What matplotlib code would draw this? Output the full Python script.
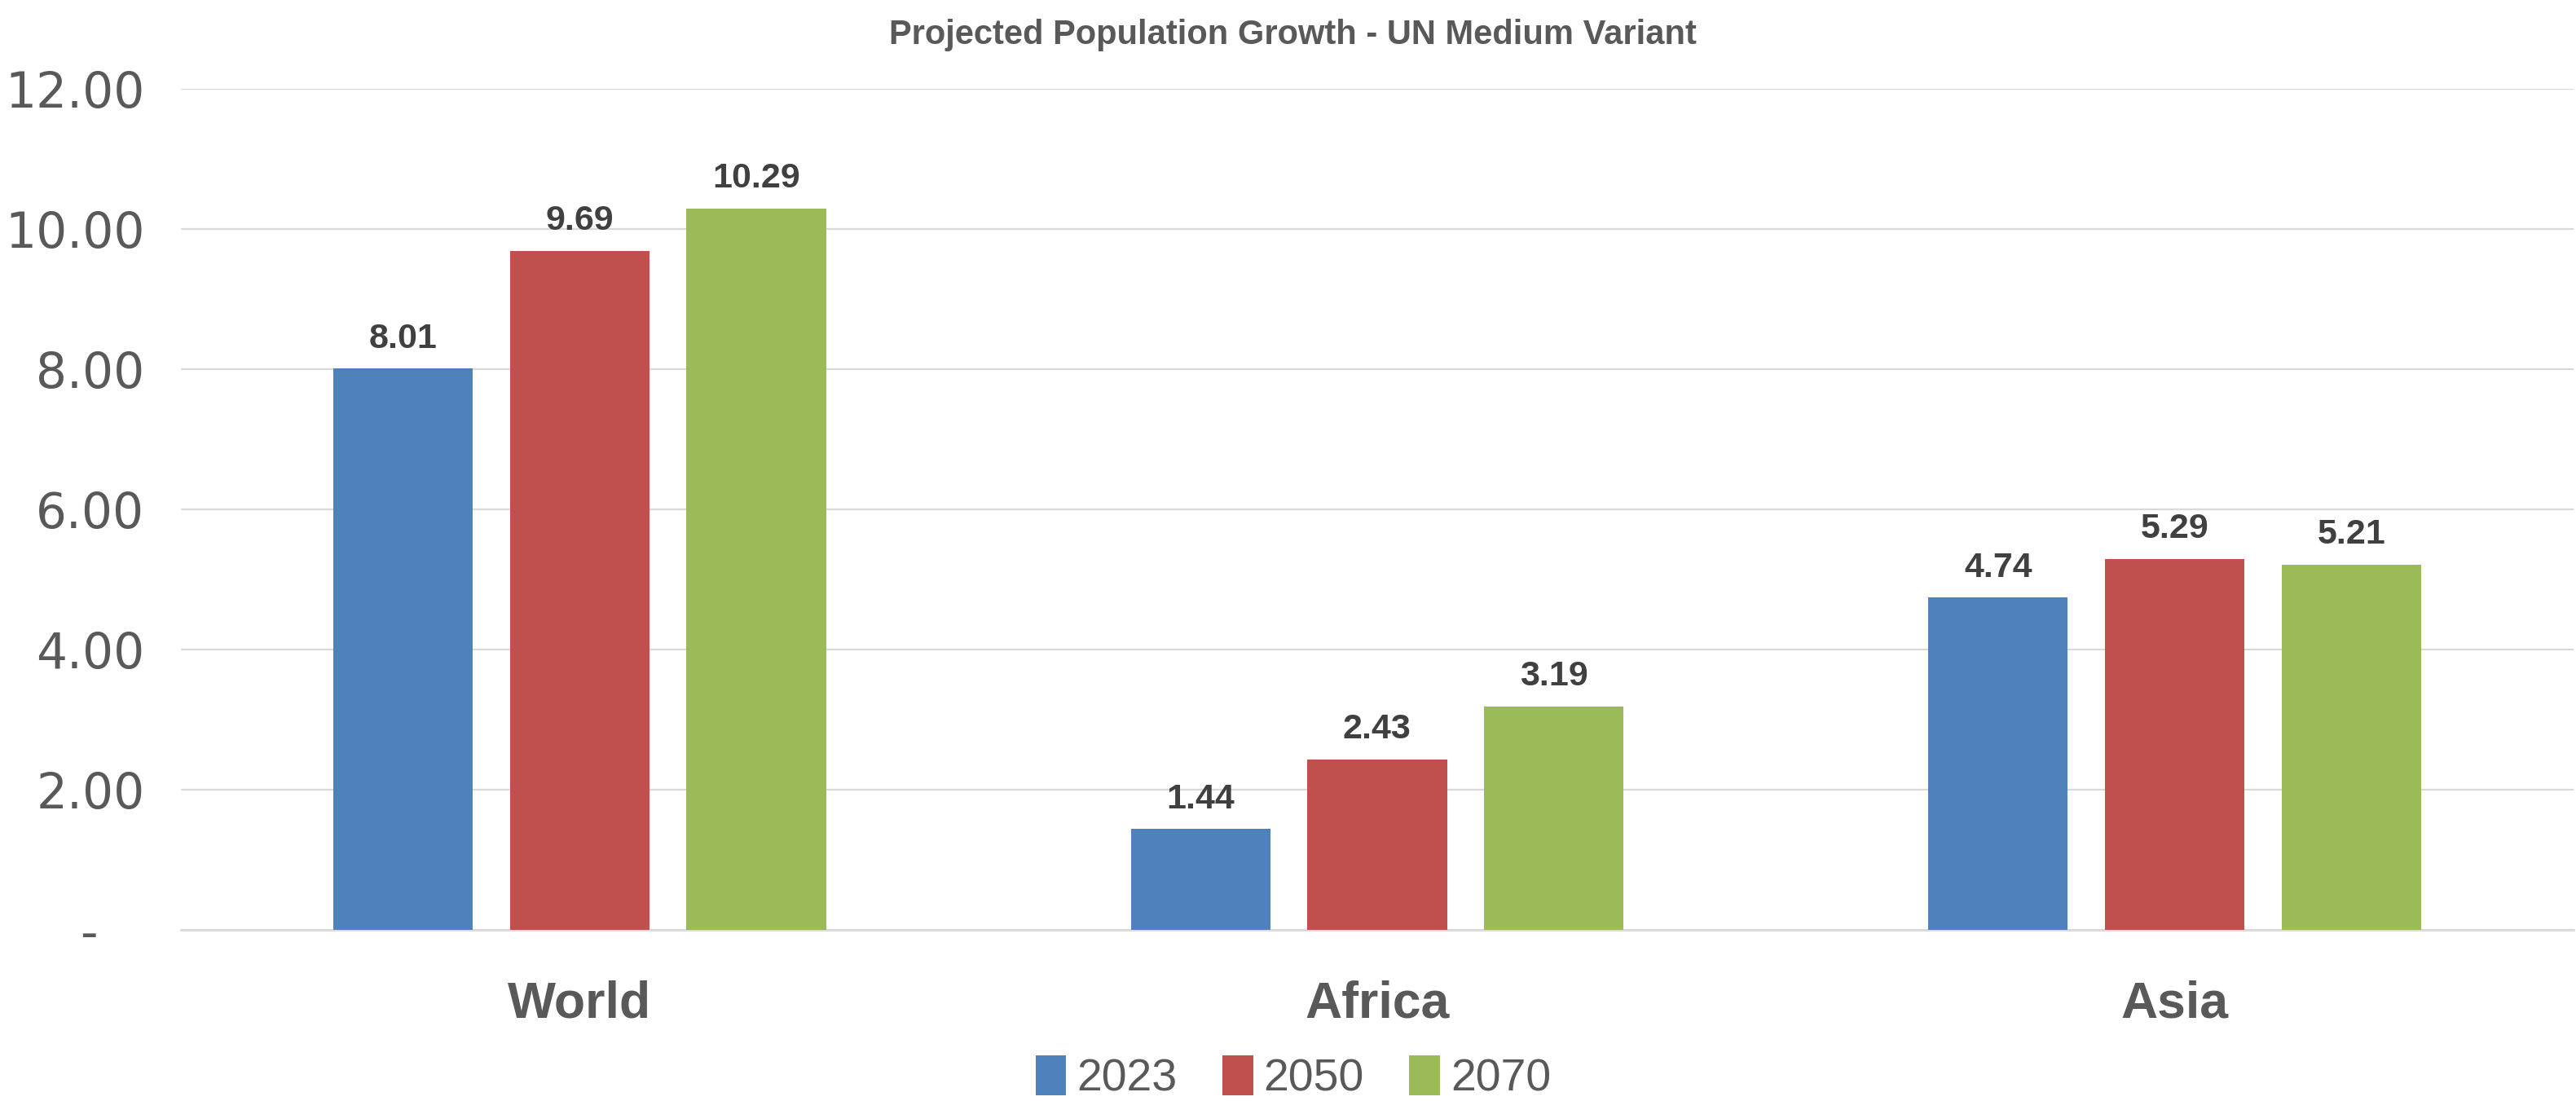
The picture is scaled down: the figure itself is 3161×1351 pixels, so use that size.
import matplotlib
matplotlib.use("Agg")
import matplotlib.pyplot as plt
import numpy as np
from matplotlib.ticker import FuncFormatter
from matplotlib.patches import Patch

categories = ["World", "Africa", "Asia"]
series_names = ["2023", "2050", "2070"]
values_2023 = [8.01, 1.44, 4.74]
values_2050 = [9.69, 2.43, 5.29]
values_2070 = [10.29, 3.19, 5.21]
y_ticks = [0, 2, 4, 6, 8, 10, 12]
title = "Projected Population Growth - UN Medium Variant"

colors = ["#4F81BD", "#C0504D", "#9BBB59"]
narrow = ["Liberation Sans Narrow", "Liberation Sans", "DejaVu Sans"]
txt = "#595959"

fig = plt.figure(figsize=(31.61, 13.51), dpi=100)
ax = fig.add_axes([0.0702, 0.1554, 0.9288, 0.7639])

x = np.arange(len(categories))
width = 0.175
offset = 0.2214
all_vals = [values_2023, values_2050, values_2070]
for i, (vals, c) in enumerate(zip(all_vals, colors)):
    bars = ax.bar(x + (i - 1) * offset, vals, width, color=c, zorder=3)
    for b, v in zip(bars, vals):
        ax.annotate(f"{v:.2f}", (b.get_x() + b.get_width() / 2, v),
                    xytext=(0, 12), textcoords="offset points",
                    ha="center", va="bottom", fontsize=31, fontweight="bold",
                    color="#404040", family=narrow)

ax.set_xlim(-0.5, 2.5)
ax.set_ylim(0, 12)
ax.set_yticks(y_ticks)
ax.yaxis.set_major_formatter(FuncFormatter(lambda v, p: "-   " if v == 0 else f"{v:.2f}"))
ax.set_xticks(x)
ax.set_xticklabels(categories)
for lab in ax.get_xticklabels():
    lab.set_fontfamily(narrow)
    lab.set_fontweight("bold")
    lab.set_fontsize(45)
    lab.set_color(txt)
for lab in ax.get_yticklabels():
    lab.set_fontsize(43)
    lab.set_color(txt)
    lab.set_fontfamily("DejaVu Sans")

ax.tick_params(axis="y", length=0, pad=32)
ax.tick_params(axis="x", length=0, pad=44)
ax.grid(axis="y", color="#D9D9D9", linewidth=1.6, zorder=0)
for s in ["top", "right", "left"]:
    ax.spines[s].set_visible(False)
ax.spines["bottom"].set_color("#D9D9D9")
ax.spines["bottom"].set_linewidth(2.0)

fig.text(0.502, 0.983, title, ha="center", va="top", fontsize=30,
         fontweight="bold", color=txt, family=narrow)

handles = [Patch(facecolor=c, label=n) for c, n in zip(colors, series_names)]
fig.legend(handles=handles, loc="center", bbox_to_anchor=(0.502, 0.021), ncol=3,
           frameon=False, prop={"family": narrow, "size": 40},
           handlelength=0.68, handleheight=1.0, handletextpad=0.23, columnspacing=1.0,
           labelcolor=txt)

fig.savefig("out.png", dpi=100, facecolor="white")
